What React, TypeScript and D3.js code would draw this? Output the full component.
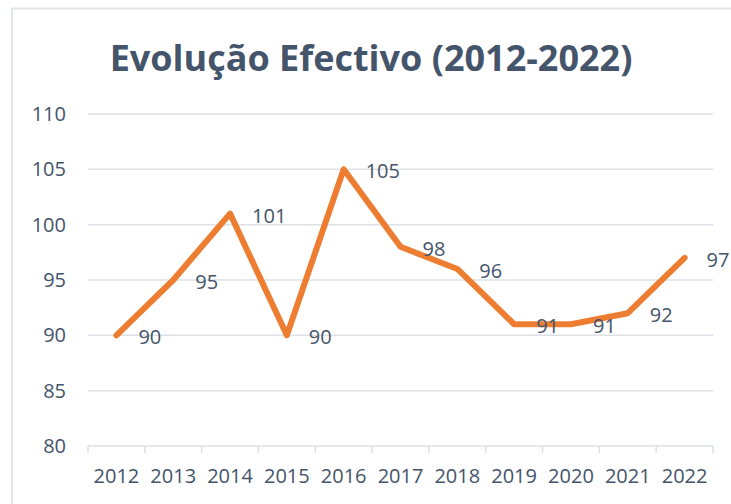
import * as d3 from 'd3';
import React, { useEffect, useRef } from 'react';

const years = ['2012', '2013', '2014', '2015', '2016', '2017', '2018', '2019', '2020', '2021', '2022'];
const efectivo = [90, 95, 101, 90, 105, 98, 96, 91, 91, 92, 97];
const yTicks = [80, 85, 90, 95, 100, 105, 110];

const chartTitle = 'Evolução Efectivo (2012-2022)';

export default function App() {
  const svgRef = useRef<SVGSVGElement | null>(null);

  useEffect(() => {
    const width = 731;
    const height = 504;
    const margin = { top: 114, right: 18, bottom: 58, left: 88 };
    const textColor = '#44546A';
    const gridColor = '#DDE1E7';
    const font = "'Open Sans', sans-serif";

    const svg = d3.select(svgRef.current);
    svg.selectAll('*').remove();
    svg.attr('width', width).attr('height', height);

    // chart area frame (cut off at right/bottom like the screenshot)
    svg
      .append('rect')
      .attr('x', 12)
      .attr('y', 8.5)
      .attr('width', width + 20)
      .attr('height', height + 20)
      .attr('fill', '#fff')
      .attr('stroke', '#E2E6EC')
      .attr('stroke-width', 2);

    const x = d3
      .scaleBand()
      .domain(years)
      .range([margin.left, width - margin.right])
      .paddingInner(0)
      .paddingOuter(0);

    const y = d3
      .scaleLinear()
      .domain([80, 110])
      .range([height - margin.bottom, margin.top]);

    // title
    svg
      .append('text')
      .attr('x', 371)
      .attr('y', 71)
      .attr('text-anchor', 'middle')
      .style('font-family', font)
      .style('font-weight', 700)
      .style('font-size', '36px')
      .attr('fill', textColor)
      .text(chartTitle);

    // gridlines
    svg
      .append('g')
      .selectAll('line')
      .data(yTicks)
      .join('line')
      .attr('x1', margin.left)
      .attr('x2', width - margin.right)
      .attr('y1', (d) => y(d))
      .attr('y2', (d) => y(d))
      .attr('stroke', gridColor)
      .attr('stroke-width', 1.5);

    // y labels
    svg
      .append('g')
      .selectAll('text')
      .data(yTicks)
      .join('text')
      .attr('x', 66)
      .attr('y', (d) => y(d))
      .attr('dy', '0.35em')
      .attr('text-anchor', 'end')
      .style('font-family', font)
      .style('font-size', '20px')
      .attr('fill', textColor)
      .text((d) => d);

    // x axis tick marks
    const bounds = years.map((d) => x(d)!).concat([width - margin.right]);
    svg
      .append('g')
      .selectAll('line')
      .data(bounds)
      .join('line')
      .attr('x1', (d) => d)
      .attr('x2', (d) => d)
      .attr('y1', y(80))
      .attr('y2', y(80) + 7)
      .attr('stroke', gridColor)
      .attr('stroke-width', 1.5);

    // x labels
    svg
      .append('g')
      .selectAll('text')
      .data(years)
      .join('text')
      .attr('x', (d) => x(d)! + x.bandwidth() / 2)
      .attr('y', 476)
      .attr('dy', '0.35em')
      .attr('text-anchor', 'middle')
      .style('font-family', font)
      .style('font-size', '20px')
      .attr('fill', textColor)
      .text((d) => d);

    const points = years.map((yr, i) => ({ year: yr, value: efectivo[i] }));

    const line = d3
      .line<{ year: string; value: number }>()
      .x((d) => x(d.year)! + x.bandwidth() / 2)
      .y((d) => y(d.value));

    svg
      .append('path')
      .datum(points)
      .attr('d', line)
      .attr('fill', 'none')
      .attr('stroke', '#ED7D31')
      .attr('stroke-width', 6)
      .attr('stroke-linejoin', 'round')
      .attr('stroke-linecap', 'round');

    // data labels, to the right of each point
    svg
      .append('g')
      .selectAll('text')
      .data(points)
      .join('text')
      .attr('x', (d) => x(d.year)! + x.bandwidth() / 2 + 22)
      .attr('y', (d) => y(d.value) + 2)
      .attr('dy', '0.35em')
      .style('font-family', font)
      .style('font-size', '20px')
      .attr('fill', textColor)
      .text((d) => d.value);
  }, []);

  return (
    <div style={{ position: 'absolute', left: 0, top: 0, width: 731, height: 504, overflow: 'hidden', background: '#fff' }}>
      <svg ref={svgRef} style={{ display: 'block' }} />
    </div>
  );
}
